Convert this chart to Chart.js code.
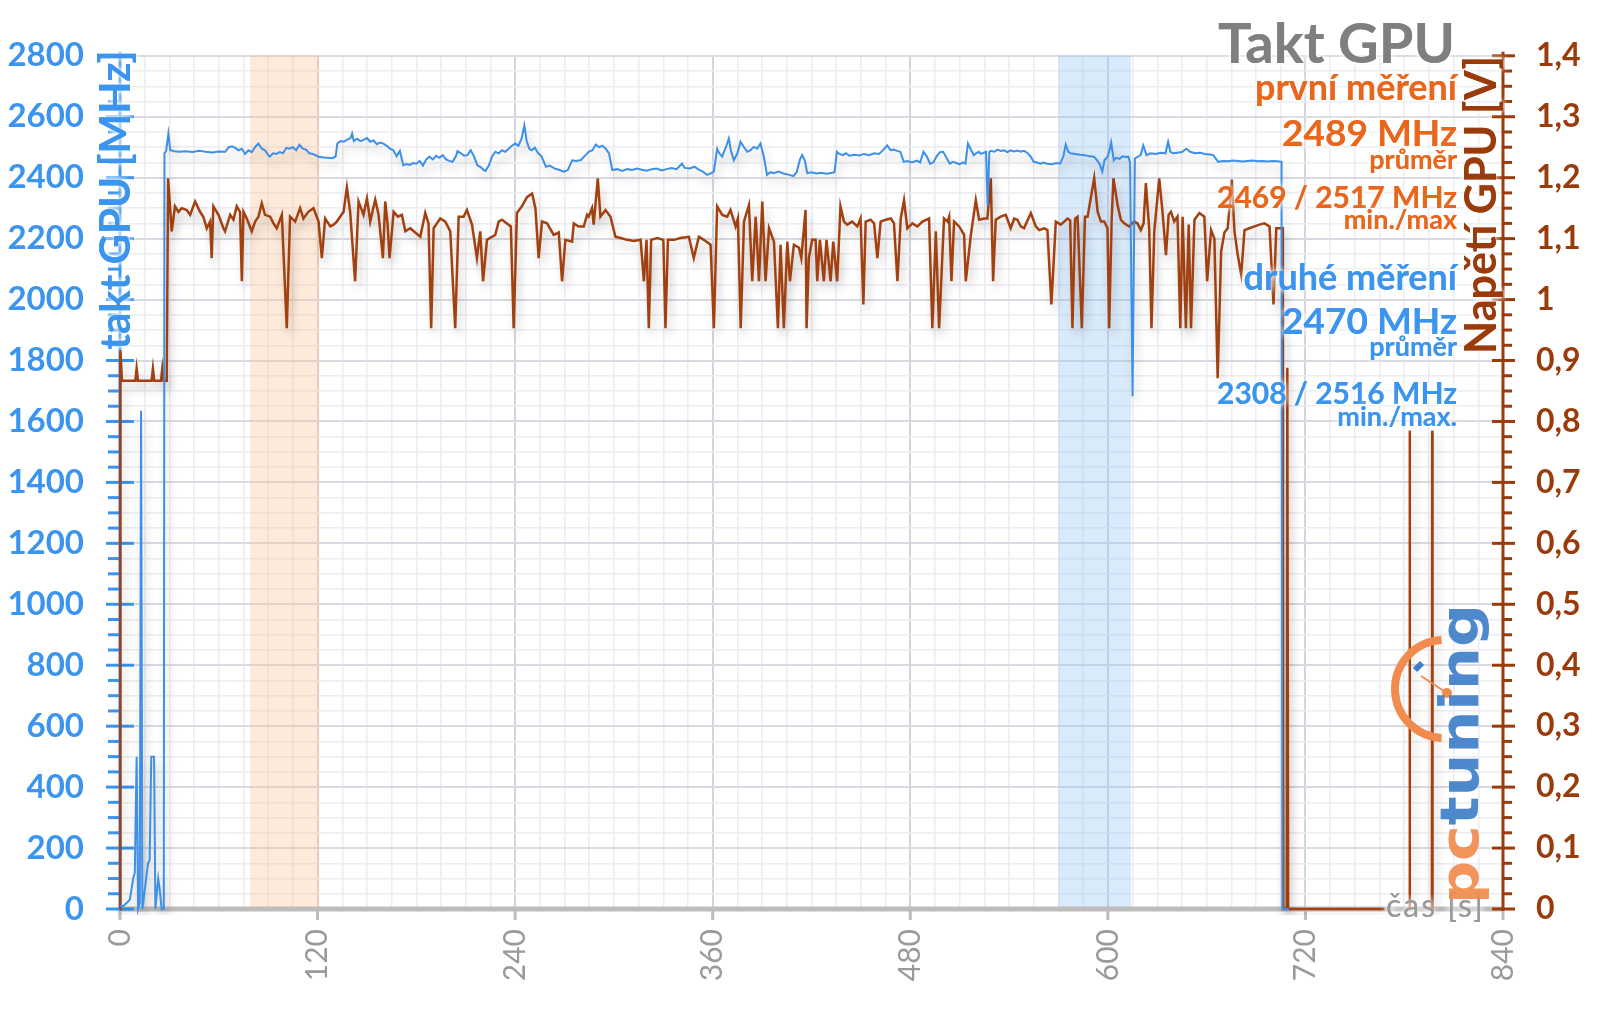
<!DOCTYPE html>
<html lang="cs">
<head>
  <meta charset="UTF-8">
  <title>Takt GPU</title>
  <script src="https://cdn.jsdelivr.net/npm/chart.js"></script>
  <style>
    html, body { margin: 0; padding: 0; background: #fff; }
    #wrap { width: 1600px; height: 1009px; position: relative; }
  </style>
</head>
<body>
  <div id="wrap"><canvas id="clockChart"></canvas></div>

  <script>
  // time [s] and GPU clock [MHz]
  const clockTime = [
    0, 2, 4, 6, 8, 9, 10.1, 11, 12, 12.8,
    13.6, 15, 17, 18, 19, 20.7, 21.5, 23.2, 24.2, 25.3,
    26.6, 27, 28, 29.4, 30.5, 33, 36, 40, 44, 48,
    52, 56, 60, 64, 66, 68, 70, 72, 74, 76,
    78, 80, 82, 84, 86, 88, 90, 91, 93, 95,
    97, 99, 101, 103, 105, 107, 109, 111, 113, 115,
    117, 120.6, 124, 127, 129, 131, 132, 134, 136, 138,
    140, 141, 142, 144, 146, 148, 150, 152, 154, 156,
    158, 160, 162, 164, 166, 168, 170, 172, 174, 176,
    178, 180, 182, 184, 186, 188, 190, 192, 194, 196,
    198, 200, 202, 204, 205, 207, 209, 211, 213, 215,
    217, 219, 221, 222, 224, 226, 228, 230, 232, 234,
    236, 238, 240, 242, 244, 245.6, 247, 248.6, 250, 252,
    254, 256, 258.7, 261, 264, 267, 269.5, 272, 274.6, 277,
    280, 282, 284.7, 287, 289, 291, 293, 295, 297, 299,
    302, 305, 308, 311, 314, 317, 320, 323, 326, 329,
    332, 335, 338, 341.4, 343, 346, 349, 351, 354, 356.6,
    359, 360.7, 362.7, 364, 365.7, 368, 369.8, 371, 372.8, 375,
    376.9, 379, 381, 383, 385, 387, 389, 391, 393, 395,
    397, 400, 403, 406, 409, 411, 413, 414.3, 416, 417.4,
    420, 423, 426, 429, 432, 434, 435.4, 437, 439, 441,
    443, 446, 449, 452, 455, 458, 461, 463, 466, 468,
    470, 472, 474, 476, 478, 481, 484, 486, 488, 490,
    492, 494, 496, 498, 500, 502, 504, 506, 508, 510,
    512, 513.5, 515, 517, 518.6, 520, 521.6, 523, 526, 527,
    528, 529, 531, 533, 535, 537, 539, 541, 543, 545,
    547, 549, 551, 553, 555, 557, 559, 561, 563, 566,
    569, 571, 573, 574.4, 576, 577.4, 580, 583, 586, 589,
    591.5, 593, 595, 596.6, 598, 600, 601, 602, 603.6, 605,
    607, 609, 611, 612.4, 613.5, 615, 616.4, 618, 620, 621.5,
    623.5, 626, 629, 632, 635, 636.6, 638, 639.6, 642, 645,
    647.7, 650, 653, 656, 659, 662, 664, 667, 670, 673,
    676, 679, 682, 685, 688, 691, 694, 697, 700, 703,
    705.5, 706, 710
  ];
  const clockMHz = [
    10, 10, 20, 30, 100, 120, 500, 0, 20, 1635,
    0, 60, 150, 160, 500, 500, 0, 100, 60, 0,
    0, 2480, 2487, 2545, 2490, 2487, 2485, 2487, 2484, 2488,
    2485, 2483, 2486, 2485, 2500, 2503, 2498, 2490, 2495, 2478,
    2490, 2484, 2500, 2512, 2496, 2490, 2475, 2469, 2480, 2478,
    2484, 2480, 2498, 2495, 2500, 2490, 2508, 2495, 2492, 2480,
    2478, 2469, 2466, 2465, 2464, 2470, 2512, 2520, 2518, 2525,
    2530, 2545, 2520, 2528, 2520, 2524, 2530, 2518, 2522, 2510,
    2515, 2512, 2505, 2495, 2490, 2470, 2488, 2441, 2445, 2442,
    2448, 2446, 2455, 2440, 2460, 2469, 2460, 2472, 2465, 2474,
    2460, 2455, 2452, 2470, 2487, 2480, 2472, 2474, 2490, 2470,
    2441, 2435, 2425, 2422, 2440, 2470, 2485, 2480, 2490, 2485,
    2495, 2505, 2512, 2505, 2530, 2572, 2520, 2495, 2490, 2498,
    2480, 2470, 2436, 2440, 2430, 2425, 2420, 2425, 2457, 2455,
    2458, 2470, 2485, 2490, 2509, 2500, 2505, 2495, 2480, 2425,
    2428, 2422, 2428, 2425, 2430, 2426, 2423, 2428, 2430, 2424,
    2428, 2432, 2428, 2446, 2432, 2430, 2436, 2428, 2420, 2409,
    2415, 2420, 2495, 2480, 2469, 2500, 2529, 2490, 2457, 2480,
    2518, 2500, 2485, 2490, 2501, 2495, 2512, 2470, 2409, 2418,
    2415, 2420, 2414, 2410, 2405, 2418, 2460, 2474, 2455, 2415,
    2418, 2414, 2416, 2413, 2415, 2418, 2485, 2478, 2474, 2480,
    2472, 2475, 2473, 2478, 2474, 2480, 2478, 2488, 2506, 2490,
    2492, 2488, 2485, 2452, 2455, 2450, 2456, 2450, 2485, 2470,
    2446, 2450, 2470, 2484, 2485, 2465, 2446, 2452, 2448, 2444,
    2450, 2446, 2512, 2490, 2474, 2480, 2485, 2478, 2485, 2308,
    2485, 2488, 2485, 2492, 2488, 2490, 2484, 2490, 2486, 2489,
    2485, 2488, 2482, 2470, 2452, 2450, 2446, 2450, 2446, 2444,
    2448, 2446, 2470, 2509, 2485, 2480, 2478, 2475, 2474, 2470,
    2469, 2460, 2445, 2420, 2457, 2470, 2490, 2516, 2457, 2465,
    2462, 2470, 2468, 2469, 2450, 1683, 2463, 2468, 2475, 2506,
    2474, 2480, 2478, 2482, 2480, 2518, 2485, 2480, 2482, 2484,
    2495, 2485, 2480, 2482, 2478, 2476, 2474, 2452, 2455, 2454,
    2456, 2455, 2453, 2455, 2456, 2454, 2455, 2453, 2455, 2454,
    2452, 0, 0
  ];

  // time [s] and GPU voltage [V]
  const voltTime = [
    0, 0.2, 1.2, 9.3, 10.1, 10.9, 19.2, 20, 20.8, 24.9,
    25.7, 26.5, 28.4, 29.2, 31.4, 33.4, 35.5, 37.5, 40.5, 42.6,
    45.6, 48.6, 50.6, 52.7, 54.7, 55.7, 56.7, 59.8, 62.8, 63.8,
    66.9, 68.9, 70.9, 72.9, 74, 75, 77, 80, 82.1, 84.1,
    86.1, 88.1, 91.2, 93.2, 95.2, 98.3, 101.3, 103.3, 106.4, 109.4,
    111.4, 114.4, 117.5, 120.6, 122.6, 124.6, 127.7, 129.7, 131.7, 133.7,
    135.8, 137.8, 139.8, 142.8, 144.9, 147.9, 150, 152, 155, 157,
    159.7, 161.1, 162.5, 163.7, 166.2, 168.8, 171.2, 173.3, 176.3, 179.3,
    182.4, 185.4, 187.4, 189, 190.5, 192.5, 194.5, 197.6, 200.6, 203.6,
    205.7, 208.7, 210.7, 213.8, 216.8, 218.8, 220.5, 222.9, 225.9, 227.9,
    230, 232, 235, 237.4, 239.1, 241.1, 244.1, 247.2, 250.3, 252.3,
    254.3, 256.3, 259.4, 263.4, 266.5, 268.5, 270.5, 274.6, 275.6, 278.6,
    281.7, 283.7, 284.7, 286.7, 287.7, 290.2, 291.8, 294.9, 297.9, 300.9,
    304, 308, 312.1, 316.2, 318.2, 319.8, 321.2, 322.6, 326.3, 330,
    331.3, 332.8, 336.5, 340.4, 345.5, 348.5, 351.6, 354.6, 358.7, 360.7,
    362.7, 365.8, 368.8, 370.8, 373.9, 375.3, 377, 379, 382, 384,
    386.1, 388.1, 390.1, 392.1, 394.2, 397.2, 399.6, 401.2, 403.2, 405.3,
    406.9, 409.3, 412.4, 413.8, 416.4, 417, 418.4, 420.4, 422.5, 423.5,
    425.1, 427.5, 429.1, 431.6, 433.2, 435.6, 437.6, 439.7, 441.7, 444.7,
    447.8, 449.8, 451.5, 452.9, 455.9, 458, 460, 462, 465.1, 468.2,
    470.1, 472.2, 474.2, 476.2, 478.2, 481.3, 484.3, 487.4, 491.4, 493.4,
    495.5, 497.5, 500.5, 502.6, 503.6, 505, 506.6, 509.7, 512.7, 513.7,
    516.8, 519.8, 521.8, 524.9, 526.8, 528.9, 530.3, 531.9, 534.9, 538,
    541, 543.1, 545.1, 547.1, 549.1, 553.2, 556.2, 558.3, 561.3, 563.3,
    565.7, 568.4, 571.4, 575.5, 577.1, 578.5, 580.1, 581.6, 584.2, 586.1,
    587.7, 591.7, 593.8, 595.8, 597.8, 599.8, 600.8, 602.3, 603.4, 605.9,
    607.9, 609.9, 612.9, 616, 618, 620, 621.7, 623.1, 625.1, 626.5,
    628.2, 631.2, 633.2, 635.3, 636.9, 638.3, 640.3, 642.3, 644, 645.4,
    647.4, 649.1, 650.5, 652.6, 655.6, 658.6, 660.3, 662.7, 664.7, 666.7,
    668.8, 670.8, 672.8, 675.3, 676.9, 678.9, 681, 683, 686, 689.1,
    692.1, 695.1, 698.2, 700.6, 702.3, 704.3, 706.3, 706.6, 708.6, 709,
    709.5, 768, 770, 783.1, 783.3, 783.5, 785, 796.8, 797, 797.2
  ];
  const voltV = [
    0, 0.917, 0.867, 0.867, 0.887, 0.867, 0.867, 0.887, 0.867, 0.867,
    0.887, 0.867, 0.867, 1.199, 1.112, 1.153, 1.144, 1.150, 1.147, 1.139,
    1.161, 1.144, 1.136, 1.117, 1.128, 1.068, 1.153, 1.139, 1.117, 1.112,
    1.139, 1.131, 1.153, 1.144, 1.030, 1.144, 1.133, 1.112, 1.128, 1.136,
    1.158, 1.139, 1.136, 1.125, 1.117, 1.139, 0.953, 1.136, 1.128, 1.150,
    1.133, 1.144, 1.150, 1.128, 1.068, 1.133, 1.120, 1.123, 1.128, 1.136,
    1.144, 1.184, 1.144, 1.030, 1.161, 1.139, 1.166, 1.128, 1.164, 1.140,
    1.068, 1.161, 1.125, 1.068, 1.144, 1.136, 1.139, 1.112, 1.117, 1.110,
    1.103, 1.142, 1.125, 0.953, 1.117, 1.125, 1.133, 1.128, 1.112, 0.953,
    1.136, 1.136, 1.147, 1.123, 1.068, 1.112, 1.030, 1.098, 1.103, 1.106,
    1.128, 1.131, 1.125, 1.120, 0.953, 1.142, 1.153, 1.168, 1.174, 1.150,
    1.068, 1.128, 1.125, 1.106, 1.110, 1.030, 1.098, 1.095, 1.125, 1.120,
    1.120, 1.139, 1.136, 1.150, 1.123, 1.199, 1.136, 1.147, 1.136, 1.103,
    1.101, 1.098, 1.096, 1.098, 1.030, 1.098, 0.953, 1.098, 1.101, 1.098,
    0.953, 1.098, 1.098, 1.101, 1.103, 1.068, 1.103, 1.098, 1.090, 0.953,
    1.153, 1.139, 1.136, 1.147, 1.120, 1.133, 0.953, 1.128, 1.155, 1.030,
    1.136, 1.030, 1.161, 1.030, 1.117, 1.095, 0.953, 1.090, 0.953, 1.095,
    1.030, 1.090, 1.085, 1.068, 1.147, 0.953, 1.068, 1.098, 1.098, 1.030,
    1.098, 1.030, 1.098, 1.030, 1.095, 1.030, 1.153, 1.128, 1.123, 1.128,
    1.120, 1.133, 0.992, 1.128, 1.131, 1.125, 1.068, 1.128, 1.131, 1.133,
    1.125, 1.030, 1.133, 1.163, 1.117, 1.125, 1.120, 1.128, 1.133, 0.953,
    1.112, 0.953, 1.133, 1.128, 1.136, 1.030, 1.128, 1.120, 1.106, 1.030,
    1.106, 1.163, 1.131, 1.133, 1.133, 1.199, 1.030, 1.131, 1.136, 1.139,
    1.117, 1.133, 1.131, 1.120, 1.117, 1.142, 1.120, 1.114, 1.117, 1.114,
    0.992, 1.128, 1.123, 1.133, 1.130, 0.953, 1.133, 1.136, 0.953, 1.136,
    1.136, 1.199, 1.144, 1.128, 1.128, 1.117, 0.953, 1.131, 1.199, 1.155,
    1.131, 1.125, 1.120, 1.128, 1.125, 1.114, 1.125, 1.191, 1.117, 0.953,
    1.112, 1.199, 1.144, 1.073, 1.139, 1.144, 1.128, 1.136, 0.953, 1.136,
    0.953, 1.123, 0.953, 1.131, 1.142, 1.136, 1.030, 1.114, 1.100, 0.871,
    1.079, 1.110, 1.117, 1.197, 1.112, 1.073, 1.041, 1.114, 1.117, 1.120,
    1.123, 1.125, 1.120, 0.992, 1.117, 1.117, 1.117, 0, 0, 0.888,
    0, 0, null, 0, 0.785, 0, null, 0, 0.785, 0
  ];

  // highlighted intervals [s]
  const bandStart = [79, 570];
  const bandEnd = [121, 614];

  // annotation texts (top right)
  const firstRun = ['první měření', '2489 MHz', 'průměr', '2469 / 2517 MHz', 'min./max'];
  const secondRun = ['druhé měření', '2470 MHz', 'průměr', '2308 / 2516 MHz', 'min./max.'];

  const BLUE = '#3b94ee';
  const BROWN = '#9a3b0c';
  const ORANGE = '#e8671c';
  const FONT = 'Lato, "Open Sans", sans-serif';

  if (clockTime.length !== clockMHz.length || voltTime.length !== voltV.length) {
    console.error('data length mismatch', clockTime.length, clockMHz.length, voltTime.length, voltV.length);
  }

  const clockPoints = clockTime.map((t, i) => ({ x: t, y: clockMHz[i] }));
  const voltPoints = voltTime.map((t, i) => ({ x: t, y: voltV[i] }));

  function glowText(ctx, txt, x, y, font, color, align) {
    ctx.font = font;
    ctx.textAlign = align || 'right';
    ctx.textBaseline = 'alphabetic';
    ctx.fillStyle = color;
    ctx.shadowColor = 'rgba(255,255,255,1)';
    ctx.shadowBlur = 7;
    ctx.fillText(txt, x, y);
    ctx.fillText(txt, x, y);
    ctx.shadowBlur = 0;
  }

  function rotText(ctx, txt, cx, cy, font, color) {
    ctx.save();
    ctx.translate(cx, cy);
    ctx.rotate(-Math.PI / 2);
    ctx.font = font;
    ctx.textAlign = 'center';
    ctx.textBaseline = 'middle';
    ctx.fillStyle = color;
    ctx.shadowColor = 'rgba(255,255,255,1)';
    ctx.shadowBlur = 6;
    ctx.fillText(txt, 0, 0);
    ctx.fillText(txt, 0, 0);
    ctx.restore();
  }

  const decor = {
    id: 'decor',
    beforeDatasetsDraw(chart) {
      const { ctx, chartArea: a, scales: { x, y, y1 } } = chart;
      ctx.save();
      // highlighted bands
      const bandColors = ['rgba(252, 196, 150, 0.35)', 'rgba(150, 196, 245, 0.36)'];
      bandStart.forEach((s, i) => {
        const x0 = x.getPixelForValue(s), x1 = x.getPixelForValue(bandEnd[i]);
        ctx.fillStyle = bandColors[i];
        ctx.fillRect(x0, a.top, x1 - x0, a.bottom - a.top);
      });

      // x axis
      ctx.lineCap = 'butt';
      ctx.strokeStyle = '#bdbdbd';
      ctx.lineWidth = 5;
      ctx.beginPath();
      ctx.moveTo(a.left, a.bottom);
      ctx.lineTo(a.right, a.bottom);
      ctx.stroke();
      ctx.lineWidth = 3;
      x.ticks.forEach(t => {
        if (t.value % 120 !== 0) return;
        const px = x.getPixelForValue(t.value);
        ctx.beginPath();
        ctx.moveTo(px, a.bottom);
        ctx.lineTo(px, a.bottom + 11);
        ctx.stroke();
      });

      // left axis
      ctx.strokeStyle = BLUE;
      ctx.lineWidth = 3;
      ctx.beginPath();
      ctx.moveTo(a.left, a.bottom + 2);
      ctx.lineTo(a.left, a.top - 4);
      ctx.stroke();
      y.ticks.forEach(t => {
        const py = y.getPixelForValue(t.value);
        const major = t.value % 200 === 0;
        ctx.beginPath();
        ctx.moveTo(a.left - (major ? 14 : 12), py);
        ctx.lineTo(a.left + (major ? 14 : 0), py);
        ctx.stroke();
      });

      // right axis
      ctx.strokeStyle = BROWN;
      ctx.beginPath();
      ctx.moveTo(a.right, a.bottom + 2);
      ctx.lineTo(a.right, a.top - 4);
      ctx.stroke();
      y1.ticks.forEach(t => {
        const py = y1.getPixelForValue(t.value);
        const major = Math.abs(t.value * 10 - Math.round(t.value * 10)) < 1e-6;
        ctx.beginPath();
        ctx.moveTo(a.right - (major ? 11 : 0), py);
        ctx.lineTo(a.right + (major ? 12 : 9), py);
        ctx.stroke();
      });
      ctx.restore();

      // soft shadow under the lines
      ctx.save();
      ctx.shadowColor = 'rgba(0,0,0,0.22)';
      ctx.shadowBlur = 10;
      ctx.shadowOffsetX = 3;
      ctx.shadowOffsetY = 7;
    },
    afterDatasetsDraw(chart) {
      const { ctx } = chart;
      ctx.restore();
      ctx.save();

      // axis titles
      rotText(ctx, 'takt GPU [MHz]', 116, 200, 'bold 42px ' + FONT, BLUE);
      rotText(ctx, 'Napětí GPU [V]', 1482, 205, 'bold 43px ' + FONT, BROWN);

      // title and notes
      glowText(ctx, 'Takt GPU', 1455, 63, 'bold 56px ' + FONT, '#7f7f7f');
      const sizes = [36, 37, 27, 30, 27];
      const base1 = [100, 146, 169, 208, 229];
      const base2 = [290, 334, 356, 404, 426];
      firstRun.forEach((s, i) => glowText(ctx, s, 1457, base1[i], 'bold ' + sizes[i] + 'px ' + FONT, ORANGE));
      secondRun.forEach((s, i) => glowText(ctx, s, 1457, base2[i], 'bold ' + sizes[i] + 'px ' + FONT, BLUE));

      // x axis title
      ctx.save();
      ctx.letterSpacing = '2px';
      glowText(ctx, 'čas [s]', 1386, 917, '32px ' + FONT, '#9a9a9a', 'left');
      ctx.restore();

      // pctuning logo
      const cx = 1444, cy = 689;
      ctx.strokeStyle = '#f28b4e';
      ctx.lineWidth = 8;
      ctx.beginPath();
      ctx.arc(cx, cy, 49, -1.62, 1.62, true);
      ctx.stroke();
      ctx.lineWidth = 2;
      ctx.beginPath();
      ctx.moveTo(cx + 3, cy + 4);
      ctx.lineTo(cx - 23, cy - 13);
      ctx.stroke();
      ctx.fillStyle = '#f28b4e';
      ctx.beginPath();
      ctx.arc(cx + 3, cy + 4, 5, 0, Math.PI * 2);
      ctx.fill();
      ctx.strokeStyle = '#3f7fca';
      ctx.lineWidth = 6;
      ctx.beginPath();
      ctx.moveTo(cx - 22, cy - 26);
      ctx.lineTo(cx - 29, cy - 19);
      ctx.stroke();

      ctx.save();
      ctx.globalAlpha = 0.92;
      ctx.translate(1478, 904);
      ctx.rotate(-Math.PI / 2);
      ctx.font = 'bold 54px "DejaVu Sans", sans-serif';
      ctx.textAlign = 'left';
      ctx.textBaseline = 'alphabetic';
      const wPc = ctx.measureText('pc').width;
      const wTu = ctx.measureText('tuning').width;
      ctx.scale(300 / (wPc + wTu), 1);
      ctx.fillStyle = '#f28b4e';
      ctx.fillText('pc', 0, 0);
      ctx.fillStyle = '#3f7fca';
      ctx.fillText('tuning', wPc, 0);
      ctx.restore();

      ctx.restore();
    }
  };

  function drawChart() {
    new Chart(document.getElementById('clockChart'), {
      type: 'line',
      data: {
        datasets: [
          {
            label: 'takt GPU',
            data: clockPoints,
            yAxisID: 'y',
            borderColor: '#3d8fe8',
            borderWidth: 2,
            pointRadius: 0,
            tension: 0,
            clip: 6
          },
          {
            label: 'napětí GPU',
            data: voltPoints,
            yAxisID: 'y1',
            borderColor: '#a2410f',
            borderWidth: 2.5,
            pointRadius: 0,
            tension: 0,
            spanGaps: false,
            clip: 6
          }
        ]
      },
      options: {
        responsive: true,
        maintainAspectRatio: false,
        animation: false,
        events: [],
        layout: { padding: { top: 54, left: 0, right: 0, bottom: 0 } },
        plugins: { legend: { display: false }, tooltip: { enabled: false } },
        scales: {
          x: {
            type: 'linear',
            min: 0,
            max: 840,
            afterFit: s => { s.height = 100; },
            border: { display: false },
            grid: {
              drawTicks: false,
              color: c => c.tick.value % 120 === 0 ? '#d4d4de' : '#ebebf1',
              lineWidth: c => c.tick.value % 120 === 0 ? 2 : 1.5
            },
            ticks: {
              stepSize: 15,
              autoSkip: false,
              minRotation: 90,
              maxRotation: 90,
              padding: 20,
              color: '#9a9a9a',
              font: { family: FONT, size: 30 },
              callback: v => v % 120 === 0 ? String(v) : ''
            }
          },
          y: {
            position: 'left',
            min: 0,
            max: 2800,
            afterFit: s => { s.width = 120; },
            border: { display: false },
            grid: {
              drawTicks: false,
              color: c => c.tick.value % 200 === 0 ? '#d9d9e2' : '#ececf2',
              lineWidth: c => c.tick.value % 200 === 0 ? 2 : 1.5
            },
            ticks: {
              stepSize: 50,
              autoSkip: false,
              padding: 36,
              color: BLUE,
              font: { family: FONT, size: 33, weight: 'bold' },
              callback: v => v % 200 === 0 ? String(v) : ''
            }
          },
          y1: {
            position: 'right',
            min: 0,
            max: 1.4,
            afterFit: s => { s.width = 97; },
            border: { display: false },
            grid: { display: false, drawTicks: false },
            ticks: {
              stepSize: 0.025,
              autoSkip: false,
              padding: 33,
              color: BROWN,
              font: { family: FONT, size: 32, weight: 'bold' },
              callback: v => {
                if (Math.abs(v * 10 - Math.round(v * 10)) > 1e-6) return '';
                const r = Math.round(v * 10) / 10;
                return String(r).replace('.', ',');
              }
            }
          }
        }
      },
      plugins: [decor]
    });
  }

  Promise.all([
    document.fonts.load('bold 32px Lato'),
    document.fonts.load('30px Lato'),
    document.fonts.load('bold 54px "DejaVu Sans"')
  ]).catch(() => {}).then(drawChart);
  </script>
</body>
</html>
